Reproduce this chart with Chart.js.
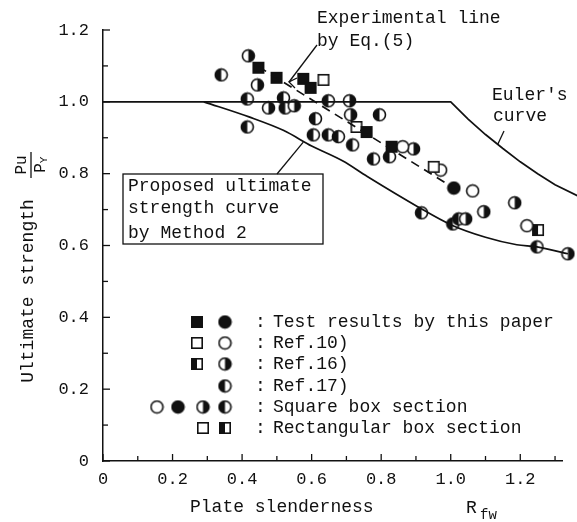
<!DOCTYPE html>
<html>
<head>
<meta charset="utf-8">
<script src="https://cdn.jsdelivr.net/npm/chart.js@4.4.0/dist/chart.umd.min.js"></script>
<style>
  body { margin: 0; background: #fff; }
  #wrap { width: 577px; height: 522px; }
</style>
</head>
<body>
<div id="wrap"><canvas id="chart" width="577" height="522"></canvas></div>
<script>
// ticks
const xTicks = [0, 0.2, 0.4, 0.6, 0.8, 1.0, 1.2];
const xTickLabels = ["0", "0.2", "0.4", "0.6", "0.8", "1.0", "1.2"];
const yTicks = [0, 0.2, 0.4, 0.6, 0.8, 1.0, 1.2];
const yTickLabels = ["0", "0.2", "0.4", "0.6", "0.8", "1.0", "1.2"];
const minorStep = 0.1;

// curves
const eulerX = [0, 1.0, 1.05, 1.1, 1.15, 1.2, 1.25, 1.3, 1.366];
const eulerY = [1.0, 1.0, 0.952, 0.909, 0.87, 0.833, 0.80, 0.769, 0.738];
const proposedX = [0.29, 0.42, 0.52, 0.60, 0.69, 0.76, 0.905, 1.0, 1.1, 1.19, 1.248, 1.337];
const proposedY = [1.0, 0.958, 0.92, 0.877, 0.835, 0.792, 0.708, 0.658, 0.623, 0.602, 0.596, 0.577];
const expX = [0.447, 1.009];
const expY = [1.098, 0.76];

// test points
const testSqX = [0.447, 0.499, 0.576, 0.597, 0.758, 0.83];
const testSqY = [1.095, 1.067, 1.064, 1.039, 0.916, 0.875];
const testCircX = [1.009];
const testCircY = [0.76];
const ref10SqX = [0.634, 0.729, 0.951];
const ref10SqY = [1.061, 0.93, 0.819];
const ref10CircX = [0.862, 0.971, 1.063, 1.219];
const ref10CircY = [0.875, 0.81, 0.752, 0.655];
const ref16SqX = [1.251];
const ref16SqY = [0.643];
const ref16CircX = [0.418, 0.444, 0.476, 0.55, 0.709, 0.712, 0.893, 1.184, 1.095, 1.043, 1.337];
const ref16CircY = [1.128, 1.047, 0.983, 0.989, 1.003, 0.964, 0.869, 0.719, 0.694, 0.674, 0.577];
const ref17CircX = [0.34, 0.415, 0.519, 0.524, 0.648, 0.415, 0.611, 0.605, 0.648, 0.677, 0.795, 0.718, 0.778, 0.824, 0.916, 1.006, 1.023, 1.248];
const ref17CircY = [1.075, 1.008, 1.011, 0.983, 1.003, 0.93, 0.953, 0.908, 0.908, 0.903, 0.964, 0.88, 0.841, 0.847, 0.691, 0.66, 0.674, 0.596];

const FONT = "'Liberation Mono', 'DejaVu Sans Mono', monospace";
const INK = '#111';

function pts(xs, ys) {
  return xs.map((x, i) => ({ x: x, y: ys[i] }));
}

// marker images
function marker(kind, size) {
  const c = document.createElement('canvas');
  c.width = size; c.height = size;
  const g = c.getContext('2d');
  const m = size / 2, r = size / 2 - 1.5;
  g.lineWidth = 1.6;
  g.strokeStyle = INK;
  g.fillStyle = INK;
  if (kind.indexOf('circ') === 0) {
    g.beginPath(); g.arc(m, m, r, 0, Math.PI * 2);
    g.fillStyle = kind === 'circFull' ? INK : '#fff';
    g.fill();
    if (kind === 'circRight' || kind === 'circLeft') {
      g.beginPath();
      if (kind === 'circRight') g.arc(m, m, r, -Math.PI / 2, Math.PI / 2);
      else g.arc(m, m, r, Math.PI / 2, Math.PI * 1.5);
      g.closePath();
      g.fillStyle = INK; g.fill();
    }
    g.beginPath(); g.arc(m, m, r, 0, Math.PI * 2); g.stroke();
  } else {
    const s = r * 1.6, o = m - s / 2;
    g.fillStyle = kind === 'sqFull' ? INK : '#fff';
    g.fillRect(o, o, s, s);
    if (kind === 'sqHalf') { g.fillStyle = INK; g.fillRect(o, o, s / 2, s); }
    g.strokeRect(o, o, s, s);
  }
  return c;
}

const mk = {
  sqFull: marker('sqFull', 16), sqOpen: marker('sqOpen', 16), sqHalf: marker('sqHalf', 16),
  circFull: marker('circFull', 15), circOpen: marker('circOpen', 15),
  circRight: marker('circRight', 15), circLeft: marker('circLeft', 15)
};

function scatterSet(xs, ys, img) {
  return { type: 'scatter', data: pts(xs, ys), pointStyle: img, pointRadius: 7, clip: false };
}

function lineSet(xs, ys, dash, smooth) {
  return {
    type: 'line', data: pts(xs, ys), borderColor: INK, borderWidth: 1.7,
    pointRadius: 0, borderDash: dash || [], fill: false, clip: false,
    tension: 0, cubicInterpolationMode: smooth ? 'monotone' : 'default'
  };
}

// annotations, legend, titles, inward ticks
const overlay = {
  id: 'overlay',
  afterDraw(chart) {
    const ctx = chart.ctx, xs = chart.scales.x, ys = chart.scales.y;
    const X = v => xs.getPixelForValue(v), Y = v => ys.getPixelForValue(v);
    const a = chart.chartArea;
    ctx.save();
    ctx.strokeStyle = INK; ctx.fillStyle = INK; ctx.lineWidth = 1.3;

    // inward ticks
    for (let v = 0; v <= 1.32 + 1e-9; v += minorStep) {
      const major = Math.abs(v * 5 - Math.round(v * 5)) < 1e-6;
      ctx.beginPath(); ctx.moveTo(X(v), a.bottom); ctx.lineTo(X(v), a.bottom - (major ? 7 : 5)); ctx.stroke();
    }
    for (let v = 0; v <= 1.2 + 1e-9; v += minorStep) {
      const major = Math.abs(v * 5 - Math.round(v * 5)) < 1e-6;
      ctx.beginPath(); ctx.moveTo(a.left, Y(v)); ctx.lineTo(a.left + (major ? 7 : 5), Y(v)); ctx.stroke();
    }

    ctx.font = '18px ' + FONT;
    ctx.textBaseline = 'middle';
    ctx.textAlign = 'left';

    // Experimental line label
    ctx.fillText('Experimental line', 317, 18);
    ctx.fillText('by Eq.(5)', 317, 41);
    ctx.beginPath(); ctx.moveTo(317, 45); ctx.lineTo(289, 82); ctx.stroke();
    ctx.beginPath(); ctx.moveTo(297, 78); ctx.lineTo(289, 82); ctx.lineTo(295, 88); ctx.stroke();

    // Euler's curve label
    ctx.fillText("Euler's", 492, 95);
    ctx.fillText('curve', 493, 116);
    ctx.beginPath(); ctx.moveTo(504, 131); ctx.lineTo(X(1.135), Y(0.881)); ctx.stroke();

    // proposed curve box
    ctx.fillStyle = '#fff';
    ctx.fillRect(123, 174, 200, 70);
    ctx.fillStyle = INK;
    ctx.strokeRect(123, 174, 200, 70);
    ctx.fillText('Proposed ultimate', 128, 186);
    ctx.fillText('strength curve', 128, 208);
    ctx.fillText('by Method 2', 128, 233);
    ctx.beginPath(); ctx.moveTo(277, 174); ctx.lineTo(X(0.576), Y(0.888)); ctx.stroke();

    // legend
    const rows = [322, 343, 364, 386, 407, 428];
    const texts = ['Test results by this paper', 'Ref.10)', 'Ref.16)', 'Ref.17)',
      'Square box section', 'Rectangular box section'];
    const marks = [
      [[197, 'sqFull'], [225, 'circFull']],
      [[197, 'sqOpen'], [225, 'circOpen']],
      [[197, 'sqHalf'], [225, 'circRight']],
      [[225, 'circLeft']],
      [[157, 'circOpen'], [178, 'circFull'], [203, 'circRight'], [225, 'circLeft']],
      [[203, 'sqOpen'], [225, 'sqHalf']]
    ];
    rows.forEach((yy, i) => {
      marks[i].forEach(m => {
        const img = mk[m[1]];
        ctx.drawImage(img, m[0] - img.width / 2, yy - img.height / 2);
      });
      ctx.fillText(':', 255, yy);
      ctx.fillText(texts[i], 273, yy);
    });

    // x title
    ctx.font = '18px ' + FONT;
    ctx.fillText('Plate slenderness', 190, 507);
    ctx.fillText('R', 466, 508);
    ctx.font = '14px ' + FONT;
    ctx.fillText('fw', 480, 515);

    // y title
    ctx.save();
    ctx.translate(28, 291);
    ctx.rotate(-Math.PI / 2);
    ctx.font = '18px ' + FONT;
    ctx.textAlign = 'center';
    ctx.fillText('Ultimate strength', 0, 0);
    ctx.restore();

    ctx.save();
    ctx.translate(31, 165);
    ctx.rotate(-Math.PI / 2);
    ctx.font = '16px ' + FONT;
    ctx.textAlign = 'center';
    ctx.fillText('Pu', 0, -9);
    ctx.fillText('P', -3, 10);
    ctx.font = '11px ' + FONT;
    ctx.fillText('Y', 5, 13);
    ctx.beginPath(); ctx.moveTo(-13, 0); ctx.lineTo(13, 0); ctx.stroke();
    ctx.restore();

    ctx.restore();
  }
};

new Chart(document.getElementById('chart'), {
  type: 'scatter',
  data: {
    datasets: [
      lineSet(eulerX, eulerY),
      lineSet(proposedX, proposedY, null, true),
      lineSet(expX, expY, [9, 6]),
      scatterSet(testSqX, testSqY, mk.sqFull),
      scatterSet(testCircX, testCircY, mk.circFull),
      scatterSet(ref10SqX, ref10SqY, mk.sqOpen),
      scatterSet(ref10CircX, ref10CircY, mk.circOpen),
      scatterSet(ref16SqX, ref16SqY, mk.sqHalf),
      scatterSet(ref16CircX, ref16CircY, mk.circRight),
      scatterSet(ref17CircX, ref17CircY, mk.circLeft)
    ]
  },
  options: {
    responsive: false,
    animation: false,
    layout: { padding: { top: 30, right: 15, left: 0, bottom: 0 } },
    plugins: { legend: { display: false }, tooltip: { enabled: false } },
    scales: {
      x: {
        type: 'linear', min: 0, max: 1.32,
        grid: { display: false, drawTicks: false },
        border: { display: true, color: INK, width: 1.5 },
        afterBuildTicks: s => { s.ticks = xTicks.map(v => ({ value: v })); },
        afterFit: s => { s.height = 61; },
        ticks: {
          padding: 8, color: INK, maxRotation: 0, autoSkip: false,
          font: { family: FONT, size: 17 },
          callback: v => xTickLabels[xTicks.indexOf(v)]
        }
      },
      y: {
        type: 'linear', min: 0, max: 1.2,
        grid: { display: false, drawTicks: false },
        border: { display: true, color: INK, width: 1.5 },
        afterBuildTicks: s => { s.ticks = yTicks.map(v => ({ value: v })); },
        afterFit: s => { s.width = 103; },
        ticks: {
          padding: 14, color: INK, autoSkip: false,
          font: { family: FONT, size: 17 },
          callback: v => yTickLabels[yTicks.indexOf(v)]
        }
      }
    }
  },
  plugins: [overlay]
});
</script>
</body>
</html>
